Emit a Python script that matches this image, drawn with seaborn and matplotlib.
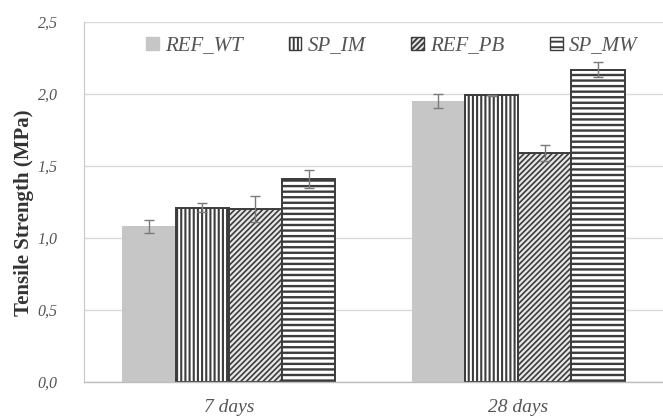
import matplotlib
matplotlib.use("Agg")
import matplotlib.pyplot as plt
import matplotlib.patches as mpatches
import seaborn as sns
import pandas as pd

# Tensile strength by curing age and mix
ages = ["7 days", "28 days"]
mixes = ["REF_WT", "SP_IM", "REF_PB", "SP_MW"]
strength_7d = [1.08, 1.21, 1.20, 1.41]
strength_28d = [1.95, 1.99, 1.59, 2.17]
err_7d = [0.045, 0.03, 0.09, 0.065]
err_28d = [0.05, 0.005, 0.053, 0.055]
y_ticks = [0.0, 0.5, 1.0, 1.5, 2.0, 2.5]
y_tick_labels = ["0,0", "0,5", "1,0", "1,5", "2,0", "2,5"]

rows = []
for age, vals, errs in [(ages[0], strength_7d, err_7d), (ages[1], strength_28d, err_28d)]:
    for mix, v, e in zip(mixes, vals, errs):
        rows.append({"age": age, "mix": mix, "strength": v, "err": e})
df = pd.DataFrame(rows)

sns.set_style("white")
plt.rcParams["font.family"] = ["Liberation Serif", "DejaVu Serif"]
plt.rcParams["hatch.linewidth"] = 1.4

fig = plt.figure(figsize=(6.63, 4.18), dpi=100)
W, H = 663, 418
ax = fig.add_axes([84 / W, 1 - 382 / H, 1 - 84 / W, 360 / H])

fills = {"REF_WT": "#c6c6c6", "SP_IM": "white", "REF_PB": "#e6e6e6", "SP_MW": "white"}
hatches = {"REF_WT": "", "SP_IM": "||||", "REF_PB": "//////", "SP_MW": "---"}
hatch_widths = {"REF_WT": 1.0, "SP_IM": 1.5, "REF_PB": 1.2, "SP_MW": 1.7}
edge = "#3c3c3c"

sns.barplot(data=df, x="age", y="strength", hue="mix", order=ages, hue_order=mixes,
            palette=fills, width=0.735, gap=0, errorbar=None, ax=ax,
            edgecolor=edge, linewidth=1.4, legend=False)

bar_containers = list(ax.containers)
for container, mix in zip(bar_containers, mixes):
    sub = df[df["mix"] == mix].set_index("age").loc[ages]
    for patch in container.patches:
        if mix == "REF_WT":
            patch.set_edgecolor(fills[mix])
            patch.set_linewidth(0)
        else:
            patch.set_hatch(hatches[mix])
            if hasattr(patch, "set_hatch_linewidth"):
                patch.set_hatch_linewidth(hatch_widths[mix])
    xs = [p.get_x() + p.get_width() / 2 for p in container.patches]
    ax.errorbar(xs, sub["strength"].values, yerr=sub["err"].values, fmt="none",
                ecolor="#7a7a7a", elinewidth=1.0, capsize=3.5, capthick=1.0, zorder=5)

ax.set_xlim(-0.5, 1.5)
ax.set_ylim(0, 2.5)
ax.set_yticks(y_ticks)
ax.set_yticklabels(y_tick_labels)
ax.yaxis.grid(True, color="#d9d9d9", linewidth=1.0)
ax.set_axisbelow(True)
for side in ["top", "right"]:
    ax.spines[side].set_visible(False)
ax.spines["left"].set_color("#c8c8c8")
ax.spines["bottom"].set_color("#bdbdbd")
ax.spines["bottom"].set_linewidth(1.0)
ax.tick_params(axis="y", length=5, color="#c8c8c8", pad=14, labelsize=11.5, labelcolor="#555555")
ax.tick_params(axis="x", length=0, pad=12, labelsize=14, labelcolor="#555555")
for lab in ax.get_xticklabels() + ax.get_yticklabels():
    lab.set_fontstyle("italic")
ax.set_xlabel("")
ax.set_ylabel("")
fig.text(24 / W, 1 - 213 / H, "Tensile Strength (MPa)", rotation=90, ha="center",
         va="center", fontsize=15, fontweight="bold", color="#333333")

leg_handles = []
for mix in mixes:
    leg_handles.append(mpatches.Patch(facecolor=fills[mix],
                                      edgecolor=fills[mix] if mix == "REF_WT" else edge,
                                      hatch=hatches[mix], linewidth=1.0))
leg = ax.legend(leg_handles, mixes, loc="center", bbox_to_anchor=(392 / W, 1 - 46 / H),
                bbox_transform=fig.transFigure, ncol=4, frameon=False,
                handlelength=0.6, handleheight=0.6, handletextpad=0.3, columnspacing=2.2,
                prop={"family": "Liberation Serif", "style": "italic", "size": 15})
for t in leg.get_texts():
    t.set_color("#555555")

fig.savefig("out.png", dpi=100)
